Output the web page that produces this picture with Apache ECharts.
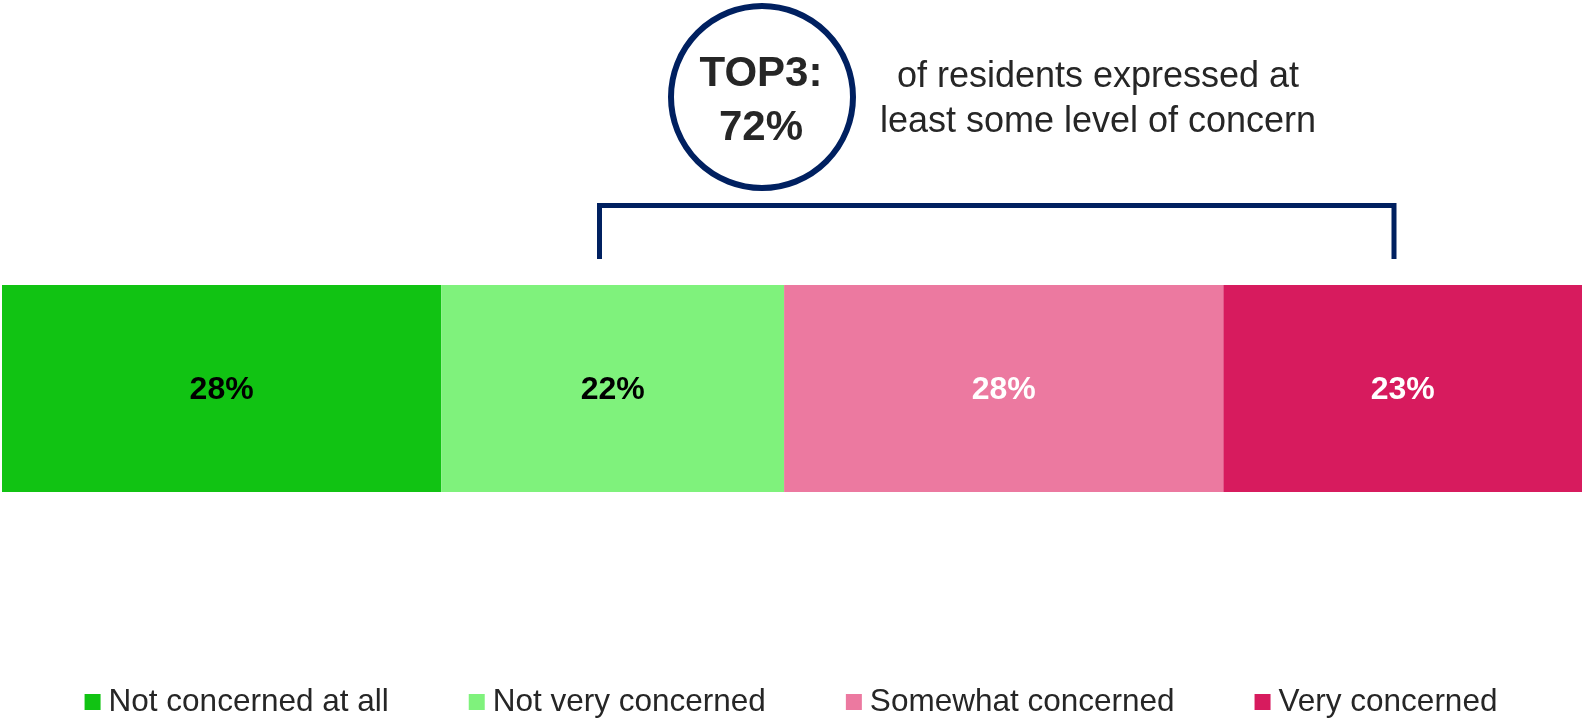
<!DOCTYPE html>
<html>
<head>
<meta charset="utf-8">
<script src="https://cdn.jsdelivr.net/npm/echarts@6/dist/echarts.min.js"></script>
<style>
html,body{margin:0;padding:0;background:#fff;}
#chart{width:1582px;height:721px;}
</style>
</head>
<body>
<div id="chart"></div>
<script>
const categories = ['Not concerned at all', 'Not very concerned', 'Somewhat concerned', 'Very concerned'];
const values = [27.8, 21.7, 27.8, 22.7];
const colors = ['#11c313', '#7ff27c', '#ec79a0', '#d71b5e'];
const labelColors = ['#000000', '#000000', '#ffffff', '#ffffff'];
const topLabel = 'TOP3:';
const topNote = ['of residents expressed at', 'least some level of concern'];

const FONT = '"Liberation Sans", Arial, sans-serif';
const top3 = Math.round(values[1] + values[2] + values[3]);

const chart = echarts.init(document.getElementById('chart'));
const series = categories.map((c, i) => ({
  name: c,
  type: 'bar',
  stack: 'total',
  barWidth: '100%',
  data: [values[i]],
  itemStyle: { color: colors[i] },
  label: {
    show: true,
    position: 'inside',
    offset: [0, 2],
    formatter: p => Math.round(p.value) + '%',
    color: labelColors[i],
    fontFamily: FONT,
    fontWeight: 'bold',
    fontSize: 32
  }
}));

chart.setOption({
  animation: false,
  grid: { left: 2, right: 0, top: 285, height: 207 },
  xAxis: { type: 'value', min: 0, max: 100, show: false },
  yAxis: { type: 'category', data: [''], show: false },
  legend: {
    top: 681,
    left: 'center',
    itemWidth: 16,
    itemHeight: 16,
    itemGap: 80,
    icon: 'rect',
    textStyle: { fontFamily: FONT, fontSize: 31.5, color: '#262626', padding: [0, 0, 0, 3] },
    data: categories
  },
  series: series,
  graphic: [
    {
      type: 'circle',
      shape: { cx: 762, cy: 97, r: 91 },
      style: { fill: '#fff', stroke: '#002060', lineWidth: 6 }
    },
    {
      type: 'text', x: 761, y: 74,
      style: { text: topLabel, font: 'bold 42px ' + FONT, fill: '#262626', align: 'center', verticalAlign: 'middle' }
    },
    {
      type: 'text', x: 761, y: 128,
      style: { text: top3 + '%', font: 'bold 42px ' + FONT, fill: '#262626', align: 'center', verticalAlign: 'middle' }
    },
    {
      type: 'text', x: 1098, y: 77,
      style: { text: topNote[0], font: '36px ' + FONT, fill: '#262626', align: 'center', verticalAlign: 'middle' }
    },
    {
      type: 'text', x: 1098, y: 122,
      style: { text: topNote[1], font: '36px ' + FONT, fill: '#262626', align: 'center', verticalAlign: 'middle' }
    },
    {
      type: 'polyline',
      shape: { points: [[599.5, 259], [599.5, 205.5], [1394, 205.5], [1394, 259]] },
      style: { stroke: '#002060', lineWidth: 5, fill: null }
    }
  ]
});
</script>
</body>
</html>
